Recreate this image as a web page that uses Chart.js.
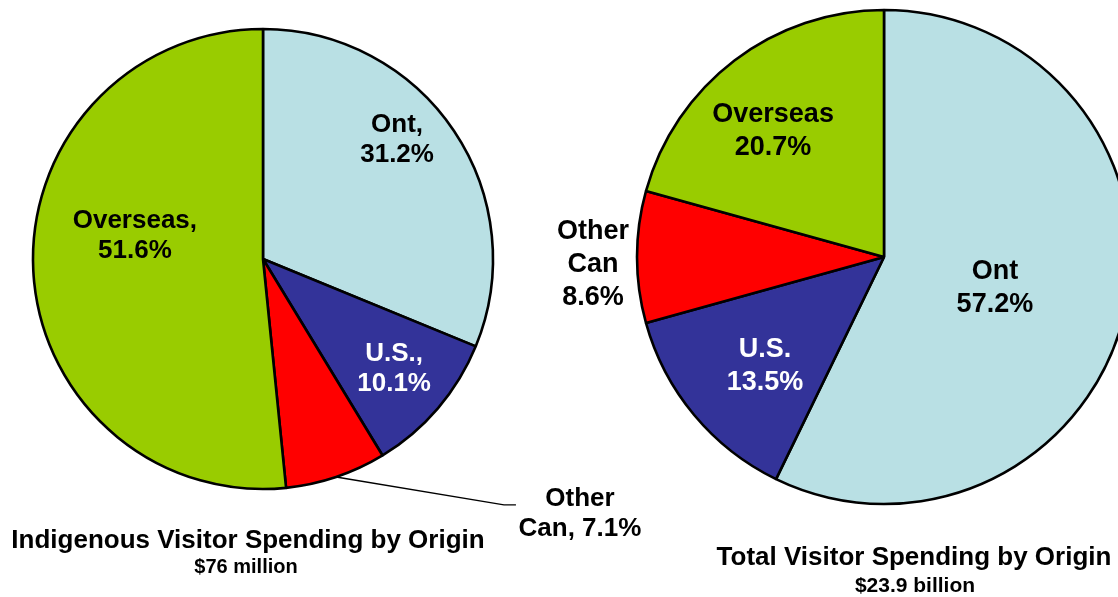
<!DOCTYPE html>
<html>
<head>
<meta charset="utf-8">
<script src="https://cdn.jsdelivr.net/npm/chart.js@4"></script>
<style>
  html, body { margin: 0; padding: 0; background: #ffffff; overflow: hidden; }
  #wrap { position: relative; width: 1118px; height: 597px; }
  canvas { position: absolute; left: 0; top: 0; }
</style>
</head>
<body>
<div id="wrap">
  <canvas id="leftPie" width="1118" height="597"></canvas>
  <canvas id="rightPie" width="1118" height="597"></canvas>
</div>
<script>
// ---- Data ----
const categories = ['Ont', 'U.S.', 'Other Can', 'Overseas'];
const indigenousShares = [31.2, 10.1, 7.1, 51.6];
const totalShares = [57.2, 13.5, 8.6, 20.7];
const indigenousLabelLines = [['Ont,', '{v}'], ['U.S.,', '{v}'], ['Other', 'Can, {v}'], ['Overseas,', '{v}']];
const totalLabelLines = [['Ont', '{v}'], ['U.S.', '{v}'], ['Other', 'Can', '{v}'], ['Overseas', '{v}']];
const indigenousTitle = 'Indigenous Visitor Spending by Origin';
const indigenousSubtitle = '$76 million';
const totalTitle = 'Total Visitor Spending by Origin';
const totalSubtitle = '$23.9 billion';

// ---- Styles ----
const sliceColors = ['#B9E0E4', '#333399', '#FF0000', '#99CC00'];
const labelColors = ['#000000', '#FFFFFF', '#000000', '#000000'];
const FONT = '"Liberation Sans", Arial, Helvetica, sans-serif';

const pieTextPlugin = {
  id: 'pieText',
  afterDatasetsDraw(chart, args, opts) {
    const ctx = chart.ctx;
    const meta = chart.getDatasetMeta(0);
    const values = chart.data.datasets[0].data;
    ctx.save();
    ctx.textAlign = 'center';
    ctx.textBaseline = 'middle';
    meta.data.forEach((arc, i) => {
      const p = arc.getProps(['x', 'y', 'outerRadius', 'startAngle', 'endAngle'], true);
      const pos = opts.positions[i];
      const cx = p.x + pos[0] * p.outerRadius;
      const cy = p.y + pos[1] * p.outerRadius;
      const lines = opts.lines[i].map(s => s.replace('{v}', values[i].toFixed(1) + '%'));
      const lh = opts.lineHeight;
      const top = cy - (lines.length - 1) * lh / 2;
      ctx.fillStyle = labelColors[i];
      ctx.font = 'bold ' + opts.fontSize + 'px ' + FONT;
      lines.forEach((ln, k) => ctx.fillText(ln, cx, top + k * lh));
      const leader = opts.leaders && opts.leaders[i];
      if (leader) {
        const mid = (p.startAngle + p.endAngle) / 2;
        const sx = p.x + Math.cos(mid) * p.outerRadius;
        const sy = p.y + Math.sin(mid) * p.outerRadius;
        ctx.beginPath();
        ctx.strokeStyle = '#000000';
        ctx.lineWidth = 1.4;
        ctx.moveTo(sx, sy);
        ctx.lineTo(cx + leader[0][0], cy + leader[0][1]);
        ctx.lineTo(cx + leader[1][0], cy + leader[1][1]);
        ctx.stroke();
      }
    });
    // titles
    ctx.fillStyle = '#000000';
    ctx.font = 'bold ' + opts.titleSize + 'px ' + FONT;
    ctx.fillText(opts.title, opts.titlePos[0], opts.titlePos[1]);
    ctx.font = 'bold ' + opts.subtitleSize + 'px ' + FONT;
    ctx.fillText(opts.subtitle, opts.subtitlePos[0], opts.subtitlePos[1]);
    ctx.restore();
  }
};

function makePie(id, values, radius, padding, textOpts) {
  return new Chart(document.getElementById(id), {
    type: 'pie',
    data: {
      labels: categories,
      datasets: [{
        data: values,
        backgroundColor: sliceColors,
        borderColor: '#000000',
        borderWidth: 2.6,
        clip: false
      }]
    },
    options: {
      responsive: false,
      animation: false,
      radius: radius,
      layout: { padding: padding },
      events: [],
      plugins: {
        legend: { display: false },
        tooltip: { enabled: false },
        title: { display: false },
        pieText: textOpts
      }
    },
    plugins: [pieTextPlugin]
  });
}

makePie('leftPie', indigenousShares, 230,
  { left: 0, right: 592, top: 0, bottom: 79 },
  {
    lines: indigenousLabelLines,
    positions: [[0.583, -0.52], [0.57, 0.478], [1.378, 1.108], [-0.557, -0.1]],
    leaders: [null, null, [[-76, -9], [-64, -9]], null],
    fontSize: 26, lineHeight: 30,
    title: indigenousTitle, subtitle: indigenousSubtitle,
    titleSize: 26, subtitleSize: 20,
    titlePos: [248, 541], subtitlePos: [246, 567]
  });

makePie('rightPie', totalShares, 247,
  { left: 650, right: 0, top: 0, bottom: 83 },
  {
    lines: totalLabelLines,
    positions: [[0.449, 0.125], [-0.482, 0.44], [-1.178, 0.03], [-0.449, -0.51]],
    leaders: [null, null, null, null],
    fontSize: 27, lineHeight: 33,
    title: totalTitle, subtitle: totalSubtitle,
    titleSize: 26, subtitleSize: 21,
    titlePos: [914, 558], subtitlePos: [915, 586]
  });
</script>
</body>
</html>
